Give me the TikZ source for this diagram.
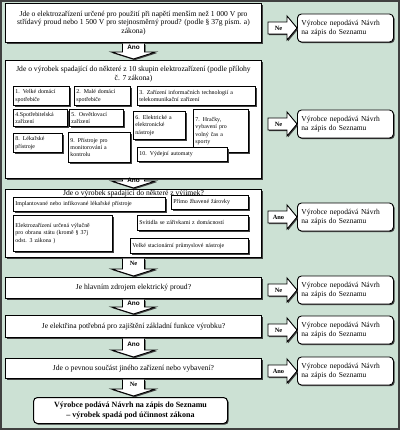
\documentclass[tikz,border=0pt]{standalone}
\usepackage{fontspec}
\setmainfont{Liberation Serif}
\setsansfont{Liberation Sans}
\usetikzlibrary{positioning,calc,shadows}

\definecolor{sage}{RGB}{204,225,212}
\newcommand{\qfont}{\fontsize{7.6}{8.8}\selectfont}
\newcommand{\grpfont}{\fontsize{5.9}{7.4}\selectfont}
\newcommand{\resfont}{\fontsize{7.5}{8.6}\selectfont}

% block arrow down: from box, to box, label
\newcommand{\downblock}[3]{%
  \coordinate (#1-tip) at ($(#1.south |- #2.north)+(0,-1)$);
  \draw[blockarr] ($(#1.south)+(-11,0.6)$) -- ($(#1-tip)+(-11,-7)$) -- ($(#1-tip)+(-22,-7)$)
    -- (#1-tip) -- ($(#1-tip)+(22,-7)$) -- ($(#1-tip)+(11,-7)$) -- ($(#1.south)+(11,0.6)$);
  \node[arrlabel] at ($(#1.south)!0.5!($(#1-tip)+(0,-7)$)$) {#3};}

% block arrow right: from box, to result box, label
\newcommand{\sideblock}[3]{%
  \coordinate (#2-tip) at (#2.west);
  \coordinate (#2-tail) at ($(#1.east |- #2.west)+(6,0)$);
  \draw[blockarr] ($(#2-tail)+(0,-6)$) -- ($(#2-tip)+(-10,-6)$) -- ($(#2-tip)+(-10,-12)$)
    -- (#2-tip) -- ($(#2-tip)+(-10,12)$) -- ($(#2-tip)+(-10,6)$) -- ($(#2-tail)+(0,6)$) -- cycle;
  \node[arrlabel] at ($(#2-tail)!0.5!(#2-tip)+(-4,0)$) {#3};}

\tikzset{
  boxshade/.style={drop shadow={shadow xshift=1.2pt, shadow yshift=-1.2pt, fill=black!75, opacity=1}},
  qbox/.style={draw, fill=white, line width=1pt, anchor=north west, align=center,
    minimum width=256pt, font=\qfont, inner sep=1pt, boxshade},
  grpbox/.style={draw, fill=white, line width=0.9pt, anchor=north west, align=left,
    font=\grpfont, inner sep=2pt, boxshade},
  resbox/.style={draw, fill=white, rounded corners=4pt, line width=0.9pt, anchor=west,
    text width=88pt, minimum height=28pt, align=left, font=\resfont, inner sep=4pt, boxshade},
  blockarr/.style={draw, fill=white, line width=0.9pt, boxshade},
  arrlabel/.style={font=\fontsize{6.4}{6.4}\selectfont\bfseries, inner sep=0pt},
}

\begin{document}
\begin{tikzpicture}[x=1pt, y=-1pt]
  \useasboundingbox (0,0) rectangle (400,430);
  \fill[sage] (0,0) rectangle (400,430);
  \draw[black!75, line width=1.5pt] (1,1) rectangle (399,429);

  % questions
  \node[qbox, minimum height=39pt] (q1) at (5,3) {Jde o elektrozařízení určené pro použití při napětí menším než 1 000 V pro\\
    střídavý proud nebo 1 500 V pro stejnosměrný proud? (podle § 37g písm. a)\\ zákona)};
  \node[qbox, minimum height=118pt] (q2) at (5,60) {};
  \node[font=\qfont, align=center, below=3pt of q2.north] (t2) {Jde o výrobek spadající do některé z 10 skupin elektrozařízení (podle přílohy\\ č. 7 zákona)};

  % groups
  \node[grpbox, text width=52pt, minimum height=19pt] (g1) at (13,86) {1. Velké domácí\\ spotřebiče};
  \node[grpbox, text width=52pt, minimum height=19pt] (g2) at (74,86) {2. Malé domácí\\ spotřebiče};
  \node[grpbox, text width=114pt, minimum height=19pt] (g3) at (137,86) {3. Zařízení informačních technologií a\\ telekomunikační zařízení};
  \node[grpbox, text width=50pt, minimum height=17pt] (g4) at (13,109) {4.Spotřebitelská\\ zařízení};
  \node[grpbox, text width=50pt, minimum height=17pt] (g5) at (69,109) {5. Osvětlovací\\ zařízení};
  \node[grpbox, text width=48pt, minimum height=28pt] (g6) at (133,111) {6. Elektrické a\\ elektronické\\ nástroje};
  \node[grpbox, text width=51pt, minimum height=43pt] (g7) at (193,109) {7. Hračky,\\ vybavení pro\\ volný čas a\\ sporty};
  \node[grpbox, text width=45pt, minimum height=19pt] (g8) at (13,133) {8. Lékařské\\ přístroje};
  \node[grpbox, text width=58pt, minimum height=30pt] (g9) at (68,132) {9. Přístroje pro\\ monitorování a\\ kontrolu};
  \node[grpbox, text width=86pt, minimum height=14pt] (g10) at (137,147) {10. Výdejní automaty};

  % exceptions
  \node[qbox, minimum height=68pt] (q3) at (5,189) {};
  \node[font=\qfont, inner sep=0.5pt, below=1pt of q3.north] (t3) {Jde o výrobek spadající do některé z výjimek?};
  \node[grpbox, text width=148pt, minimum height=14pt] (e1) at (13,197) {Implantované nebo infikované lékařské přístroje};
  \node[grpbox, text width=73pt, minimum height=14pt] (e2) at (171,195) {Přímo žhavené žárovky};
  \node[grpbox, text width=95pt, minimum height=36pt] (e3) at (13,215) {Elektrozařízení určená výlučně\\ pro obranu státu (kromě § 37j\\ odst. 3 zákona )};
  \node[grpbox, text width=107pt, minimum height=15pt] (e4) at (137,215) {Svítidla se zářivkami z domácností};
  \node[grpbox, text width=114pt, minimum height=15pt] (e5) at (130,238) {Velké stacionární průmyslové nástroje};

  \node[qbox, minimum height=21pt] (q4) at (5,277) {Je hlavním zdrojem elektrický proud?};
  \node[qbox, minimum height=22pt] (q5) at (5,315) {Je elektřina potřebná pro zajištění základní funkce výrobku?};
  \node[qbox, minimum height=20pt] (q6) at (5,358) {Jde o pevnou součást jiného zařízení nebo vybavení?};
  \node[draw, fill=white, rounded corners=4pt, line width=1pt, boxshade, anchor=north west,
    minimum width=194pt, minimum height=26pt, align=center,
    font=\fontsize{8}{9.4}\selectfont\bfseries] (fin) at (33,397) {Výrobce podává Návrh na zápis do Seznamu\\ – výrobek spadá pod účinnost zákona};

  % results
  \node[resbox] (r1) at (297,28) {Výrobce nepodává Návrh\\ na zápis do Seznamu};
  \node[resbox] (r2) at (297,124) {Výrobce nepodává Návrh\\ na zápis do Seznamu};
  \node[resbox] (r3) at (297,217) {Výrobce nepodává Návrh\\ na zápis do Seznamu};
  \node[resbox] (r4) at (297,290) {Výrobce nepodává Návrh\\ na zápis do Seznamu};
  \node[resbox] (r5) at (297,330) {Výrobce nepodává Návrh\\ na zápis do Seznamu};
  \node[resbox] (r6) at (297,371) {Výrobce nepodává Návrh\\ na zápis do Seznamu};

  % arrows
  \downblock{q1}{q2}{\sffamily Ano}
  \downblock{q2}{q3}{\sffamily Ano}
  \downblock{q3}{q4}{Ne}
  \downblock{q4}{q5}{\sffamily Ano}
  \downblock{q5}{q6}{\sffamily Ano}
  \downblock{q6}{fin}{Ne}
  \sideblock{q1}{r1}{Ne}
  \sideblock{q2}{r2}{Ne}
  \sideblock{q3}{r3}{Ano}
  \sideblock{q4}{r4}{Ne}
  \sideblock{q5}{r5}{Ne}
  \sideblock{q6}{r6}{Ano}
\end{tikzpicture}
\end{document}
